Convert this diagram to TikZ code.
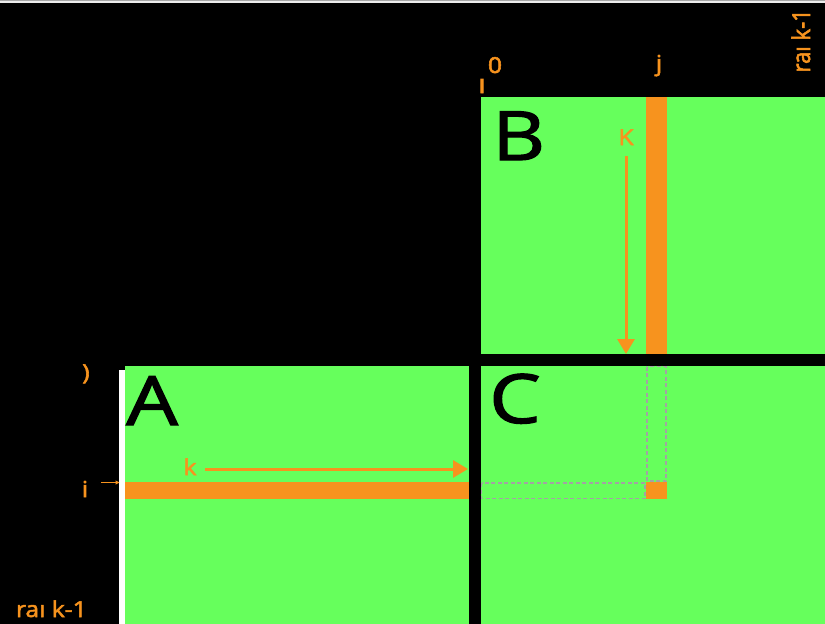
\documentclass[tikz,border=0pt]{standalone}
\usepackage{fontspec}
\setmainfont{Open Sans}
\usetikzlibrary{arrows.meta}
\definecolor{mgreen}{HTML}{66FF5C}
\definecolor{morange}{HTML}{F7931E}
\definecolor{ghostgray}{HTML}{A3A3A3}
% text drawn with fill and a thin outline, for heavier glyphs
\newcommand{\heavytext}[2]{\special{pdf:literal direct 2 Tr #1 w}#2\special{pdf:literal direct 0 Tr}}
\begin{document}
\begin{tikzpicture}[x=1pt,y=-1pt,
  matbox/.style={fill=mgreen, draw=none, inner sep=0pt, outer sep=0pt, anchor=north west},
  bigletter/.style={font=\fontsize{68}{68}\selectfont, text=black, inner sep=0pt, anchor=base west, xscale=1.2},
  olabel/.style={font=\fontsize{22}{22}\selectfont, text=morange, inner sep=0pt, xscale=1.12},
  slicebar/.style={fill=morange},
  ghost/.style={draw=ghostgray, line width=1.5pt, dash pattern=on 4pt off 2.5pt},
  sweep/.style={draw=morange, line width=3pt, -{Triangle[length=15pt,width=17pt]}}]
\useasboundingbox (0,0) rectangle (825,624);
% backdrop and top rule
\fill[black] (0,0) rectangle (825,624);
\fill[gray!70] (0,0) rectangle (825,3.2);
\fill[gray!15] (0,1.4) rectangle (825,3.2);

% the three matrices
\node[matbox, minimum width=344pt, minimum height=258pt] (A) at (125,366) {};
\node[matbox, minimum width=344pt, minimum height=257pt] (B) at (481,97) {};
\node[matbox, minimum width=344pt, minimum height=258pt] (C) at (481,366) {};

% left edge of A
\fill[white] (119,370) rectangle (124.5,624);

% row i of A, column j of B, element (i,j) of C
\fill[slicebar] (125,482) rectangle (469,499);
\fill[slicebar] (646,97) rectangle (667,354);
\fill[slicebar] (646,482) rectangle (667,499);

% outlines of row i and column j inside C
\draw[ghost] (481.5,483) rectangle (645.2,498.5);
\draw[ghost] (647.2,366.5) rectangle (666.2,481);

% matrix names
\node[bigletter] (An) at (126,425) {\heavytext{1.2}{A}};
\node[bigletter] (Bn) at (492,160) {\heavytext{1.2}{B}};
\node[bigletter] (Cn) at (489,423) {\heavytext{1.2}{C}};

% summation index arrows
\coordinate (ka0) at (205,469);
\coordinate (ka1) at (468,469);
\draw[sweep] (ka0) -- (ka1);
\node[olabel, anchor=base] (ka) at (190,475) {\heavytext{0.5}{k}};
\coordinate (kb0) at (626,156);
\coordinate (kb1) at (626,354);
\draw[sweep] (kb0) -- (kb1);
\node[olabel, anchor=base] (kb) at (626,145) {\heavytext{0.5}{K}};

% index labels
\node[olabel, anchor=base] (i) at (85,497) {\heavytext{0.5}{i}};
\coordinate (ip) at (119.5,482.5);
\draw[morange, line width=1.5pt, -{Triangle[length=4pt,width=4pt]}] (101,482.5) -- (ip);
\node[olabel, anchor=base] (p0) at (86,380) {\heavytext{0.5}{)}};
\node[olabel, anchor=base] (zero) at (495,73) {\heavytext{0.5}{0}};
\node[olabel, anchor=base, font=\fontsize{26}{26}\selectfont] (one) at (482,93) {\heavytext{0.8}{ı}};
\node[olabel, anchor=base] (j) at (659,71) {\heavytext{0.5}{j}};
\node[olabel, anchor=base east] (nA) at (87,617) {\heavytext{0.5}{raı k-1}};
\node[olabel, anchor=base east, rotate=90] (nB) at (810,9) {\heavytext{0.5}{raı k-1}};
\end{tikzpicture}
\end{document}
